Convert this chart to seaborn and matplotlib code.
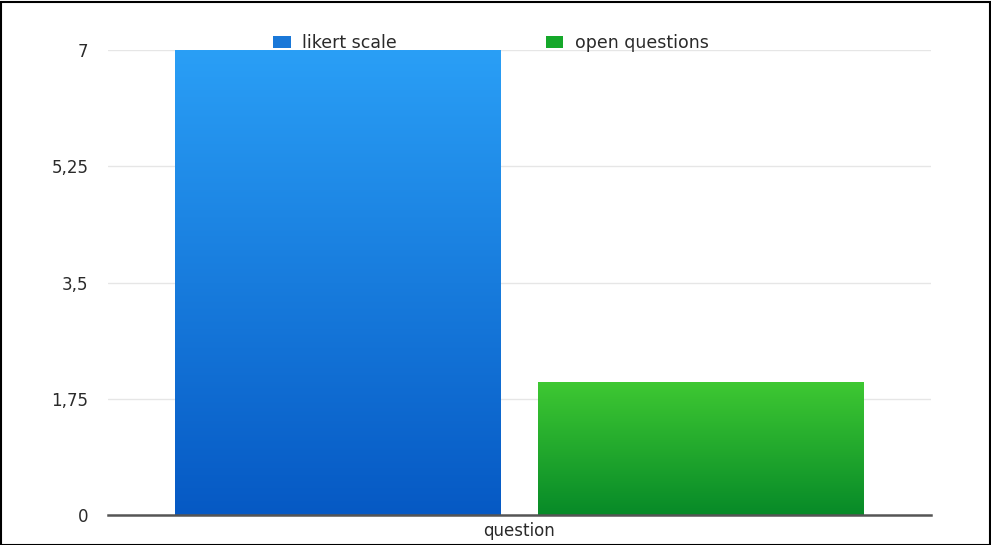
import numpy as np
import pandas as pd
import matplotlib
matplotlib.use("Agg")
import matplotlib.pyplot as plt
import seaborn as sns
from matplotlib.patches import Patch, Rectangle
from matplotlib.colors import LinearSegmentedColormap

categories = ["question"]
series = ["likert scale", "open questions"]
values = [7, 2]
yticks = [0, 1.75, 3.5, 5.25, 7]
ytick_labels = ["0", "1,75", "3,5", "5,25", "7"]

top_colors = ["#2a9ff6", "#3ec832"]
bottom_colors = ["#0659c4", "#078a28"]
legend_colors = ["#1a78d8", "#15a82a"]

df = pd.DataFrame({"category": categories * len(series), "series": series, "value": values})

sns.set_theme(style="white")
plt.rcParams["font.family"] = ["DejaVu Sans"]

fig = plt.figure(figsize=(9.91, 5.45), dpi=100)
ax = fig.add_axes([108/991, 30/545, (931-108)/991, (515-50)/545])

sns.barplot(data=df, x="category", y="value", hue="series", palette=top_colors,
            width=0.88, gap=0.1, ax=ax, legend=False, linewidth=0, saturation=1)

# gradient fill for bars
for i, bar in enumerate(ax.patches):
    x0, y0 = bar.get_x(), bar.get_y()
    w, h = bar.get_width(), bar.get_height()
    cmap = LinearSegmentedColormap.from_list("g", [bottom_colors[i], top_colors[i]])
    grad = np.linspace(0, 1, 256).reshape(-1, 1)
    im = ax.imshow(grad, cmap=cmap, origin="lower", aspect="auto",
                   extent=[x0, x0 + w, y0, y0 + h], zorder=2)
    im.set_clip_path(bar)
    bar.set_facecolor("none")
ax.set_xlim(-0.5, 0.5)
ax.set_ylim(0, 7)

ax.set_yticks(yticks)
ax.set_yticklabels(ytick_labels)
ax.yaxis.grid(True, color="#e6e6e6", linewidth=1)
ax.set_axisbelow(True)
for s in ["left", "right", "top"]:
    ax.spines[s].set_visible(False)
ax.spines["bottom"].set_color("#555555")
ax.spines["bottom"].set_linewidth(1.8)
ax.spines["bottom"].set_zorder(5)
ax.tick_params(axis="y", length=0, pad=14, labelsize=12, labelcolor="#2a2a2a")
ax.tick_params(axis="x", length=0, pad=5, labelsize=12, labelcolor="#2a2a2a")
ax.set_xlabel("")
ax.set_ylabel("")

handles = [Patch(facecolor=c, edgecolor="none") for c in legend_colors]
fig.legend(handles, series, loc="center", bbox_to_anchor=(491/991, 1 - 43/545),
           ncol=2, frameon=False, fontsize=12.5, handlelength=1.0, handleheight=0.7,
           handletextpad=0.65, columnspacing=8.6, labelcolor="#2a2a2a")

fig.patches.append(Rectangle((0.5/991, 0.5/545), 1 - 2/991, 1 - 2/545, transform=fig.transFigure,
                             fill=False, edgecolor="black", linewidth=1.5))

fig.savefig("out.png", dpi=100)
